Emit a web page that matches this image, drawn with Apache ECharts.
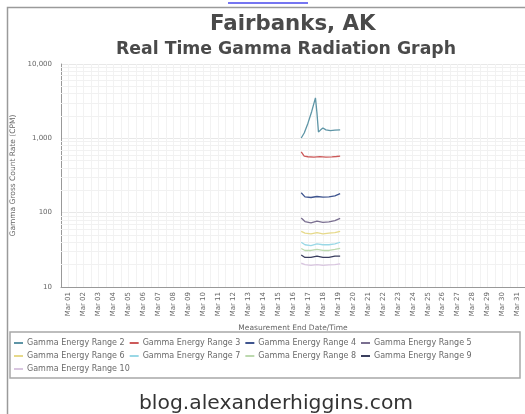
<!DOCTYPE html>
<html>
<head>
<meta charset="utf-8">
<style>
html,body{margin:0;padding:0;background:#fff;}
#c{width:525px;height:414px;}
</style>
<script src="https://cdn.jsdelivr.net/npm/echarts@6/dist/echarts.min.js"></script>
</head>
<body>
<div id="c"></div>
<script>
const days = ["Mar 01","Mar 02","Mar 03","Mar 04","Mar 05","Mar 06","Mar 07","Mar 08","Mar 09","Mar 10",
  "Mar 11","Mar 12","Mar 13","Mar 14","Mar 15","Mar 16","Mar 17","Mar 18","Mar 19","Mar 20",
  "Mar 21","Mar 22","Mar 23","Mar 24","Mar 25","Mar 26","Mar 27","Mar 28","Mar 29","Mar 30","Mar 31"];
const seriesNames = ["Gamma Energy Range 2","Gamma Energy Range 3","Gamma Energy Range 4","Gamma Energy Range 5",
  "Gamma Energy Range 6","Gamma Energy Range 7","Gamma Energy Range 8","Gamma Energy Range 9","Gamma Energy Range 10"];
const seriesColors = ["#5e95a6","#cc5a5a","#3f558f","#7a6f90","#e6d98a","#9ad8e6","#bcd9ae","#3a3e5e","#d9c6e0"];
// [day position, counts per minute]
const range2 = [[16.55,1010],[16.75,1180],[17.0,1600],[17.25,2300],[17.5,3500],[17.6,2200],[17.7,1220],[17.85,1300],[18.0,1380],[18.2,1300],[18.5,1270],[18.8,1290],[19.15,1300]];
const range3 = [[16.55,656],[16.75,577],[17.0,565],[17.4,560],[17.8,566],[18.2,560],[18.6,563],[18.9,570],[19.15,577]];
const range4 = [[16.55,185],[16.8,163],[17.2,160],[17.6,165],[18.0,162],[18.4,163],[18.8,168],[19.15,180]];
const range5 = [[16.55,85],[16.8,76],[17.2,73],[17.6,77],[18.0,74],[18.4,75],[18.8,78],[19.15,84]];
const range6 = [[16.55,56],[16.8,53],[17.2,52],[17.6,54],[18.0,52],[18.4,53],[18.8,54],[19.15,56]];
const range7 = [[16.55,40],[16.8,37],[17.2,36],[17.6,38],[18.0,37],[18.4,37],[18.8,38],[19.15,40]];
const range8 = [[16.55,33],[16.8,31],[17.2,31],[17.6,32],[18.0,31],[18.4,31],[18.8,32],[19.15,33]];
const range9 = [[16.55,27],[16.8,25],[17.2,25],[17.6,26],[18.0,25],[18.4,25],[18.8,26],[19.15,26]];
const range10 = [[16.55,21],[16.8,20],[17.2,19.5],[17.6,20],[18.0,19.5],[18.4,19.8],[18.8,20],[19.15,20.5]];
const seriesData = [range2,range3,range4,range5,range6,range7,range8,range9,range10];
const yMinorGrid = [20,30,40,50,60,70,80,90,200,300,400,500,600,700,800,900,2000,3000,4000,5000,6000,7000,8000,9000];

const chart = echarts.init(document.getElementById('c'));
const series = seriesNames.map((n,i)=>({
  name:n, type:'line', xAxisIndex:1, data:seriesData[i], showSymbol:false, symbol:'none',
  lineStyle:{width:1.3,color:seriesColors[i]}, itemStyle:{color:seriesColors[i]}, z:5,
  animation:false
}));
series.push({
  name:'grid', type:'line', xAxisIndex:1, data:[], silent:true, animation:false,
  markLine:{silent:true, symbol:['none','none'], label:{show:false}, animation:false,
    lineStyle:{color:'#f1f1f1', type:'solid', width:1},
    data:yMinorGrid.map(v=>({yAxis:v}))}
});
chart.setOption({
  backgroundColor:'#fff',
  animation:false,
  textStyle:{fontFamily:'DejaVu Sans'},
  title:[
    {text:'Fairbanks, AK', left:205, top:9, textStyle:{fontFamily:'DejaVu Sans',fontSize:21.3,fontWeight:'bold',color:'#4a4a4a'}},
    {text:'Real Time Gamma Radiation Graph', left:111, top:36, textStyle:{fontFamily:'DejaVu Sans',fontSize:17.3,fontWeight:'bold',color:'#4a4a4a'}},
    {text:'blog.alexanderhiggins.com', left:134, top:389, textStyle:{fontFamily:'DejaVu Sans',fontSize:20.3,fontWeight:'normal',color:'#333'}}
  ],
  grid:{left:61,right:-3,top:64,bottom:127},
  legend:{
    data:seriesNames, left:9, top:334, width:470, itemGap:5, itemWidth:9, itemHeight:2, icon:'rect',
    textStyle:{fontFamily:'DejaVu Sans',fontSize:8,color:'#6a6a6a',padding:[0,0,0,-1]}
  },
  xAxis:[
    {type:'category', data:days, boundaryGap:true, position:'bottom',
     name:'Measurement End Date/Time', nameLocation:'middle', nameGap:36,
     nameTextStyle:{fontFamily:'DejaVu Sans',fontSize:7.5,color:'#666'},
     axisLine:{lineStyle:{color:'#999'}}, axisTick:{show:false},
     axisLabel:{rotate:90, interval:0, fontSize:7, color:'#666', margin:5},
     splitLine:{show:false}},
    {type:'value', min:0.5, max:31.5, interval:0.5, position:'top',
     axisLine:{show:false}, axisTick:{show:false}, axisLabel:{show:false},
     splitLine:{show:true, lineStyle:{color:'#f2f2f2', width:1}}}
  ],
  yAxis:{type:'log', logBase:10, min:10, max:10000,
    name:'Gamma Gross Count Rate (CPM)', nameLocation:'middle', nameGap:41,
    nameTextStyle:{fontFamily:'DejaVu Sans',fontSize:7.5,color:'#666'},
    axisLine:{show:true, lineStyle:{color:'#999'}}, axisTick:{show:false},
    axisLabel:{fontSize:7, color:'#666', margin:9, formatter:v=>Number(v).toLocaleString('en-US')},
    splitLine:{show:true, lineStyle:{color:'#e8e8e8'}}},
  graphic:[
    {type:'rect', shape:{x:7.5,y:7.5,width:540,height:420}, style:{fill:'none',stroke:'#9a9a9a',lineWidth:1.5}, silent:true, z:-1},
    {type:'rect', shape:{x:10,y:332,width:510,height:46}, style:{fill:'none',stroke:'#a8a8a8',lineWidth:1.5}, silent:true},
    {type:'line', shape:{x1:228,y1:3,x2:308,y2:3}, style:{stroke:'#4848ee',lineWidth:1.5}, silent:true}
  ],
  series:series
});
</script>
</body>
</html>
